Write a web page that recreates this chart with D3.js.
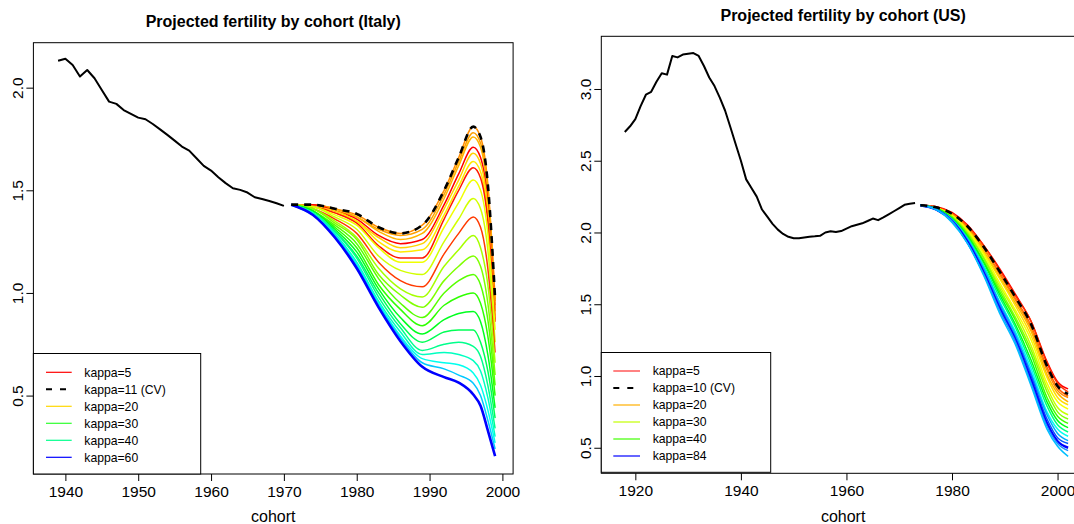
<!DOCTYPE html>
<html><head><meta charset="utf-8">
<script src="https://cdn.jsdelivr.net/npm/d3@7"></script>
<style>
body{margin:0;background:#fff}
svg{display:block}
text{font-family:"Liberation Sans",Arial,Helvetica,sans-serif}
</style>
</head><body>
<svg id="c" width="1074" height="524"></svg>
<script>
// ---------------- DATA: Italy ----------------
const itObsYears = [1939,1940,1941,1942,1943,1944,1945,1946,1947,1948,1949,1950,1951,1952,1953,1954,1955,1956,1957,1958,1959,1960,1961,1962,1963,1964,1965,1966,1967,1968,1969,1970];
const itObsFert = [2.131,2.141,2.110,2.054,2.086,2.046,1.989,1.932,1.921,1.891,1.872,1.854,1.846,1.823,1.797,1.770,1.742,1.713,1.693,1.656,1.619,1.596,1.564,1.535,1.510,1.502,1.489,1.466,1.458,1.448,1.437,1.424];
const itProjYears = [1971,1974,1977,1980,1983,1986,1989,1992,1994,1996,1997,1998,1999];
const itCV = [1.43,1.43,1.41,1.385,1.32,1.29,1.33,1.50,1.66,1.81,1.76,1.53,0.97];
const itKappaLines = [
  [1.43,1.43,1.41,1.38,1.32,1.29,1.33,1.50,1.66,1.81,1.76,1.53,0.97],
  [1.43,1.43,1.41,1.37,1.31,1.28,1.31,1.48,1.64,1.78,1.73,1.51,0.96],
  [1.43,1.43,1.40,1.37,1.30,1.26,1.29,1.46,1.62,1.76,1.71,1.48,0.94],
  [1.43,1.43,1.40,1.36,1.28,1.24,1.26,1.43,1.58,1.71,1.66,1.44,0.91],
  [1.43,1.42,1.40,1.35,1.27,1.22,1.24,1.41,1.55,1.68,1.63,1.41,0.89],
  [1.43,1.42,1.39,1.35,1.25,1.20,1.21,1.38,1.52,1.64,1.59,1.37,0.87],
  [1.43,1.42,1.39,1.34,1.23,1.17,1.17,1.36,1.50,1.61,1.56,1.35,0.86],
  [1.43,1.42,1.38,1.33,1.22,1.15,1.15,1.32,1.44,1.55,1.50,1.29,0.82],
  [1.43,1.42,1.37,1.31,1.18,1.11,1.09,1.25,1.36,1.46,1.41,1.21,0.76],
  [1.43,1.41,1.36,1.29,1.15,1.06,1.03,1.19,1.29,1.37,1.32,1.12,0.71],
  [1.43,1.41,1.35,1.27,1.12,1.02,0.98,1.13,1.21,1.28,1.22,1.04,0.66],
  [1.43,1.41,1.34,1.26,1.09,0.99,0.93,1.06,1.13,1.18,1.13,0.95,0.60],
  [1.43,1.40,1.33,1.24,1.07,0.95,0.88,1.00,1.06,1.09,1.04,0.87,0.55],
  [1.43,1.40,1.32,1.22,1.04,0.92,0.84,0.94,0.98,1.00,0.95,0.79,0.50],
  [1.43,1.40,1.31,1.20,1.02,0.88,0.80,0.87,0.90,0.91,0.86,0.70,0.44],
  [1.43,1.39,1.30,1.18,1.00,0.85,0.76,0.81,0.82,0.82,0.76,0.62,0.39],
  [1.43,1.39,1.30,1.17,0.98,0.83,0.72,0.75,0.76,0.74,0.69,0.55,0.34],
  [1.43,1.39,1.29,1.15,0.96,0.81,0.70,0.71,0.70,0.67,0.62,0.49,0.30],
  [1.43,1.38,1.28,1.14,0.95,0.79,0.68,0.66,0.65,0.61,0.55,0.43,0.27],
  [1.43,1.38,1.28,1.13,0.94,0.78,0.66,0.63,0.60,0.56,0.50,0.38,0.24],
  [1.43,1.38,1.27,1.12,0.93,0.765,0.64,0.59,0.563,0.505,0.45,0.33,0.205]
];
const itXTicks = [1940,1950,1960,1970,1980,1990,2000];
const itYTicks = [0.5,1.0,1.5,2.0];
const itLegendLabels = ["kappa=5","kappa=11 (CV)","kappa=20","kappa=30","kappa=40","kappa=60"];

// ---------------- DATA: US ----------------
const usObsYears = [1918,1919,1920,1921,1922,1923,1924,1925,1926,1927,1928,1929,1930,1931,1932,1933,1934,1935,1936,1937,1938,1939,1940,1941,1942,1943,1944,1945,1946,1947,1948,1949,1950,1951,1952,1953,1954,1955,1956,1957,1958,1959,1960,1961,1962,1963,1964,1965,1966,1967,1968,1969,1970,1971,1972,1973];
const usObsFert = [2.70,2.74,2.79,2.88,2.96,2.98,3.05,3.11,3.10,3.23,3.22,3.24,3.245,3.25,3.23,3.16,3.08,3.02,2.94,2.85,2.735,2.616,2.50,2.37,2.31,2.25,2.16,2.11,2.06,2.02,1.99,1.97,1.96,1.96,1.965,1.97,1.973,1.977,2.00,2.008,2.003,2.01,2.027,2.044,2.054,2.064,2.08,2.097,2.086,2.105,2.126,2.148,2.17,2.193,2.20,2.205];
const usProjYears = [1974,1977,1980,1983,1986,1989,1992,1995,1998,2000,2002];
const usCV = [2.19,2.175,2.13,2.04,1.90,1.73,1.55,1.36,1.07,0.93,0.875];
const usKappaLines = [
  [2.19,2.18,2.14,2.05,1.91,1.75,1.57,1.38,1.10,0.96,0.91],
  [2.19,2.18,2.13,2.04,1.91,1.74,1.56,1.38,1.09,0.95,0.89],
  [2.19,2.17,2.13,2.04,1.89,1.72,1.54,1.35,1.06,0.92,0.86],
  [2.19,2.17,2.13,2.03,1.89,1.71,1.53,1.33,1.04,0.90,0.85],
  [2.19,2.17,2.12,2.02,1.87,1.69,1.51,1.31,1.01,0.88,0.82],
  [2.19,2.17,2.12,2.02,1.86,1.68,1.49,1.28,0.99,0.85,0.80],
  [2.19,2.17,2.12,2.01,1.85,1.65,1.46,1.25,0.95,0.82,0.77],
  [2.19,2.17,2.11,2.00,1.83,1.63,1.44,1.21,0.92,0.78,0.73],
  [2.19,2.17,2.11,1.99,1.82,1.61,1.41,1.18,0.89,0.75,0.70],
  [2.19,2.17,2.10,1.98,1.80,1.59,1.39,1.15,0.85,0.72,0.67],
  [2.19,2.17,2.10,1.97,1.79,1.57,1.36,1.11,0.82,0.69,0.64],
  [2.19,2.16,2.09,1.96,1.77,1.55,1.34,1.08,0.79,0.66,0.61],
  [2.19,2.16,2.09,1.95,1.76,1.52,1.31,1.05,0.75,0.63,0.58],
  [2.19,2.16,2.09,1.95,1.75,1.51,1.29,1.02,0.73,0.60,0.55],
  [2.19,2.16,2.08,1.94,1.73,1.49,1.27,1.00,0.70,0.57,0.53],
  [2.19,2.16,2.08,1.93,1.72,1.47,1.25,0.97,0.67,0.545,0.50],
  [2.19,2.16,2.08,1.92,1.71,1.46,1.24,0.95,0.65,0.53,0.48],
  [2.19,2.16,2.07,1.92,1.70,1.44,1.22,0.93,0.63,0.51,0.44]
];
const usXTicks = [1920,1940,1960,1980,2000];
const usYTicks = [0.5,1.0,1.5,2.0,2.5,3.0];
const usLegendLabels = ["kappa=5","kappa=10 (CV)","kappa=20","kappa=30","kappa=40","kappa=84"];

// ---------------- STYLES ----------------
const itLineColors = ["#FF8C00","#FFA000","#FFB400","#FF0000","#FFD200","#FFEA00","#FF1800","#F0FF00","#D2FF00","#FF3A00","#A6FF00","#80FF00","#58FF00","#2EFF00","#00FF1E","#00FF55","#00FF8C","#00FFC0","#00FFEE","#00C8FF","#0000FF"];
const itLineWidths = itLineColors.map((c,i)=> i===itLineColors.length-1 ? 2.6 : 1.5);
const itLegendColors = ["#FF0000","#000000","#FFD700","#2EFF2E","#00FF8C","#0000FF"];
const usLineColors = ["#FF0000","#FF3300","#FF5E00","#FF8800","#FFB200","#FFDD00","#F7FF00","#C4FF00","#88FF00","#40FF00","#00FF15","#00FF80","#00FFF0","#00AAFF","#0055FF","#0000FF","#1E90FF","#00BFFF"];
const usLineWidths = usLineColors.map((c,i)=> i===15 ? 2.4 : 1.5);
const usLegendColors = ["#FF3030","#000000","#FFB000","#C4FF00","#40FF00","#0000FF"];

const svg = d3.select("#c");
const FONT = '"Liberation Sans",Arial,Helvetica,sans-serif';

function drawPanel(p){
  const g = svg.append("g");
  const x = d3.scaleLinear().domain(p.xDomain).range([p.left, p.right]);
  const y = d3.scaleLinear().domain(p.yDomain).range([p.bottom, p.top]);
  const clipId = "clip" + p.id;
  svg.append("clipPath").attr("id", clipId).append("rect")
    .attr("x", p.left).attr("y", p.top).attr("width", p.right - p.left).attr("height", p.bottom - p.top);
  const plot = g.append("g").attr("clip-path", `url(#${clipId})`);

  const lin = d3.line().x(d => x(d[0])).y(d => y(d[1]));
  const smooth = d3.line().x(d => x(d[0])).y(d => y(d[1])).curve(d3.curveMonotoneX);

  plot.append("path").datum(p.obsYears.map((yr,i)=>[yr,p.obsVals[i]]))
    .attr("d", lin).attr("fill","none").attr("stroke","#000").attr("stroke-width",2).attr("stroke-linejoin","round");

  p.lines.forEach((vals,i)=>{
    plot.append("path").datum(p.projYears.map((yr,j)=>[yr,vals[j]]))
      .attr("d", smooth).attr("fill","none").attr("stroke",p.colors[i]).attr("stroke-width",p.widths[i]);
  });
  plot.append("path").datum(p.projYears.map((yr,j)=>[yr,p.cv[j]]))
    .attr("d", smooth).attr("fill","none").attr("stroke","#000").attr("stroke-width",2.6).attr("stroke-dasharray","7,6");

  g.append("rect").attr("x",p.left).attr("y",p.top).attr("width",p.right-p.left).attr("height",p.bottom-p.top)
    .attr("fill","none").attr("stroke","#000").attr("stroke-width",1);

  const xa = g.append("g").attr("transform",`translate(0,${p.bottom})`)
    .call(d3.axisBottom(x).tickValues(p.xTicks).tickSize(7).tickPadding(5).tickFormat(d3.format("d")));
  xa.select(".domain").remove();
  xa.attr("font-size",15.5).attr("font-family",FONT);
  xa.selectAll("text").attr("fill","#000");

  const ya = g.append("g").attr("transform",`translate(${p.left},0)`)
    .call(d3.axisLeft(y).tickValues(p.yTicks).tickSize(7).tickFormat(d3.format(".1f")));
  ya.select(".domain").remove();
  ya.attr("font-size",15.5).attr("font-family",FONT);
  ya.selectAll("text").attr("fill","#000").attr("x",null).attr("dy",null)
    .attr("text-anchor","middle").attr("transform","translate(-10.5,0) rotate(-90)");

  g.append("text").attr("x",(p.left+p.right)/2).attr("y",p.titleY).attr("text-anchor","middle")
    .attr("font-weight","bold").attr("font-size",16).text(p.title);
  g.append("text").attr("x",(p.left+p.right)/2).attr("y",521.5).attr("text-anchor","middle")
    .attr("font-size",16).text("cohort");

  // legend
  const L = p.legend;
  g.append("rect").attr("x",L.x0).attr("y",L.y0).attr("width",L.x1-L.x0).attr("height",L.y1-L.y0)
    .attr("fill","#fff").attr("stroke","#000").attr("stroke-width",1);
  p.legendLabels.forEach((lab,i)=>{
    const cy = L.firstY + i*L.step;
    const ln = g.append("line").attr("x1",L.lx0).attr("x2",L.lx1).attr("y1",cy).attr("y2",cy)
      .attr("stroke",p.legendColors[i]).attr("stroke-width", i===1 ? 2 : 1.2);
    if(i===1) ln.attr("stroke-dasharray","6,8");
    g.append("text").attr("x",L.tx).attr("y",cy+4.3).attr("font-size",12.2).text(lab);
  });
}

drawPanel({
  id:"it", left:33.4, right:513.1, top:42.7, bottom:474,
  xDomain:[1935.61,2001.47], yDomain:[0.118,2.219],
  obsYears:itObsYears, obsVals:itObsFert, projYears:itProjYears, lines:itKappaLines, cv:itCV,
  colors:itLineColors, widths:itLineWidths,
  xTicks:itXTicks, yTicks:itYTicks,
  title:"Projected fertility by cohort (Italy)", titleY:27,
  legendLabels:itLegendLabels, legendColors:itLegendColors,
  legend:{x0:33.4,x1:200.7,y0:353.5,y1:474,firstY:372.3,step:17,lx0:46,lx1:71.7,tx:84.3}
});
drawPanel({
  id:"us", left:601.3, right:1085, top:36.3, bottom:473.3,
  xDomain:[1913.55,2005.2], yDomain:[0.322,3.367],
  obsYears:usObsYears, obsVals:usObsFert, projYears:usProjYears, lines:usKappaLines, cv:usCV,
  colors:usLineColors, widths:usLineWidths,
  xTicks:usXTicks, yTicks:usYTicks,
  title:"Projected fertility by cohort (US)", titleY:20.6,
  legendLabels:usLegendLabels, legendColors:usLegendColors,
  legend:{x0:601.3,x1:770.7,y0:352.5,y1:472.3,firstY:371,step:17,lx0:613.3,lx1:640,tx:652.7}
});
</script>
</body></html>
